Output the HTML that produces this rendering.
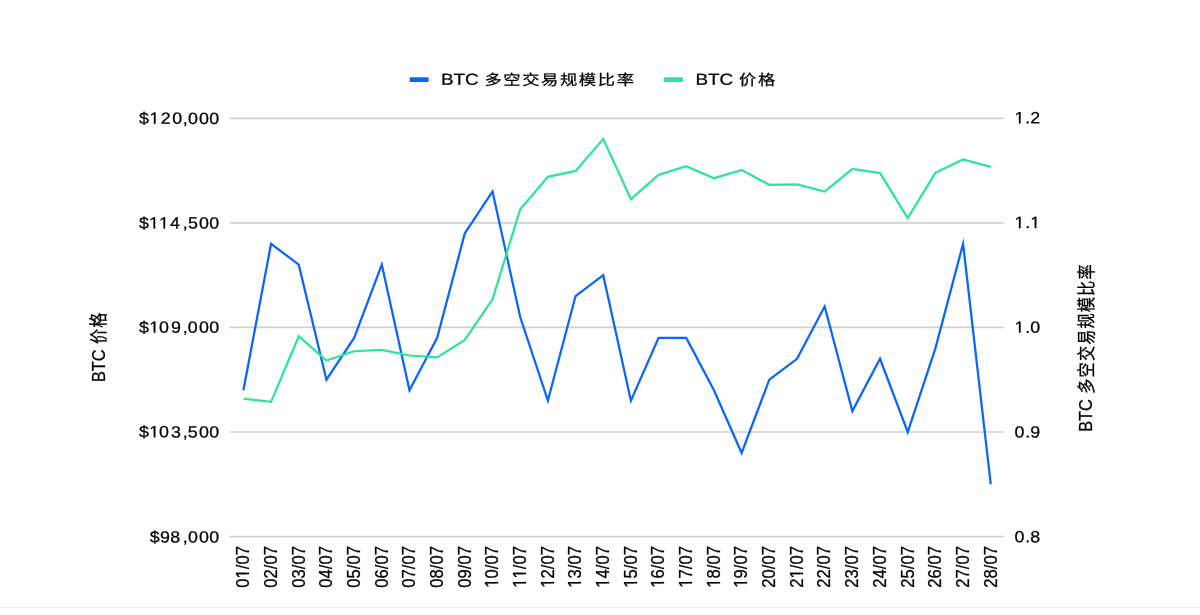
<!DOCTYPE html>
<html lang="zh"><head><meta charset="utf-8"><title>BTC 多空交易规模比率 / BTC 价格</title>
<style>html,body{margin:0;padding:0;background:#fff;}body{width:1200px;height:615px;overflow:hidden;}svg{display:block;will-change:transform;}text{font-family:"Liberation Sans",sans-serif;fill:#000000;stroke:#000000;stroke-width:0.25px;}</style></head><body>
<svg width="1200" height="615" viewBox="0 0 1200 615">
<rect width="1200" height="615" fill="#ffffff"/>
<rect x="0" y="607" width="1200" height="1" fill="#ececec"/>
<line x1="229.6" x2="1003.7" y1="118.30" y2="118.30" stroke="#d0d0d0" stroke-width="1.66"/>
<line x1="229.6" x2="1003.7" y1="222.87" y2="222.87" stroke="#d0d0d0" stroke-width="1.66"/>
<line x1="229.6" x2="1003.7" y1="327.44" y2="327.44" stroke="#d0d0d0" stroke-width="1.66"/>
<line x1="229.6" x2="1003.7" y1="432.01" y2="432.01" stroke="#d0d0d0" stroke-width="1.66"/>
<line x1="229.6" x2="1003.7" y1="536.58" y2="536.58" stroke="#d0d0d0" stroke-width="1.66"/>
<polyline points="243.40,390.18 271.08,243.78 298.76,264.70 326.44,379.72 354.12,337.90 381.80,264.70 409.48,390.18 437.16,337.90 464.84,233.33 492.52,191.50 520.20,316.98 547.88,400.64 575.56,296.07 603.24,275.15 630.92,400.64 658.60,337.90 686.28,337.90 713.96,390.18 741.64,452.92 769.32,379.72 797.00,358.81 824.68,306.53 852.36,411.10 880.04,358.81 907.72,432.01 935.40,348.35 963.08,243.78 990.76,484.29" fill="none" stroke="#0A66F8" stroke-width="2.25" stroke-linejoin="miter" stroke-miterlimit="10"/>
<polyline points="243.40,398.75 271.08,401.85 298.76,336.20 326.44,360.60 354.12,351.25 381.80,350.00 409.48,355.50 437.16,357.40 464.84,340.00 492.52,299.30 520.20,209.20 547.88,176.85 575.56,170.90 603.24,139.00 630.92,199.20 658.60,174.85 686.28,166.20 713.96,178.20 741.64,170.00 769.32,184.80 797.00,184.40 824.68,191.60 852.36,168.90 880.04,173.10 907.72,218.00 935.40,172.85 963.08,159.45 990.76,166.90" fill="none" stroke="#2EE39B" stroke-width="2.25" stroke-linejoin="miter" stroke-miterlimit="10"/>
<g transform="translate(0,123.75) rotate(0.04) scale(1.1,1)"><text font-size="16.2" x="126.29 135.84 146.11 156.56 166.19 170.91 180.96 190.27">$120,000</text><rect x="136.07" y="-1.98" width="3.71" height="3.24" fill="#fff"/><rect x="141.47" y="-1.98" width="3.27" height="3.24" fill="#fff"/></g>
<g transform="translate(0,228.32) rotate(0.04) scale(1.1,1)"><text font-size="16.2" x="126.29 135.56 144.56 154.65 166.19 170.91 180.96 190.27">$114,500</text><rect x="135.80" y="-1.98" width="3.71" height="3.24" fill="#fff"/><rect x="141.19" y="-1.98" width="3.27" height="3.24" fill="#fff"/><rect x="144.80" y="-1.98" width="3.71" height="3.24" fill="#fff"/><rect x="150.19" y="-1.98" width="3.27" height="3.24" fill="#fff"/></g>
<g transform="translate(0,332.69) rotate(0.04) scale(1.1,1)"><text font-size="16.2" x="126.29 135.74 144.56 155.38 166.19 170.60 180.96 190.27">$109,000</text><rect x="135.98" y="-1.98" width="3.71" height="3.24" fill="#fff"/><rect x="141.38" y="-1.98" width="3.27" height="3.24" fill="#fff"/></g>
<g transform="translate(0,437.26) rotate(0.04) scale(1.1,1)"><text font-size="16.2" x="126.29 135.74 144.56 155.38 166.19 170.60 180.96 190.27">$103,500</text><rect x="135.98" y="-1.98" width="3.71" height="3.24" fill="#fff"/><rect x="141.38" y="-1.98" width="3.27" height="3.24" fill="#fff"/></g>
<g transform="translate(0,542.43) rotate(0.04) scale(1.1,1)"><text font-size="16.2" x="136.20 145.47 154.83 166.19 170.96 180.96 190.32">$98,000</text></g>
<g transform="translate(1014.0,123.30) rotate(0.04) scale(1.10,1)"><text font-size="16.2" x="0.45 10.27 14.76">1.2</text><rect x="0.69" y="-1.98" width="3.71" height="3.24" fill="#fff"/><rect x="6.08" y="-1.98" width="3.27" height="3.24" fill="#fff"/></g>
<g transform="translate(1014.0,228.07) rotate(0.04) scale(1.10,1)"><text font-size="16.2" x="0.45 10.27 14.76">1.1</text><rect x="0.69" y="-1.98" width="3.71" height="3.24" fill="#fff"/><rect x="6.08" y="-1.98" width="3.27" height="3.24" fill="#fff"/><rect x="15.00" y="-1.98" width="3.71" height="3.24" fill="#fff"/><rect x="20.39" y="-1.98" width="3.27" height="3.24" fill="#fff"/></g>
<g transform="translate(1014.0,332.64) rotate(0.04) scale(1.10,1)"><text font-size="16.2" x="0.45 10.27 14.76">1.0</text><rect x="0.69" y="-1.98" width="3.71" height="3.24" fill="#fff"/><rect x="6.08" y="-1.98" width="3.27" height="3.24" fill="#fff"/></g>
<g transform="translate(1014.0,437.61) rotate(0.04) scale(1.10,1)"><text font-size="16.2" x="0.45 10.27 14.76">0.9</text></g>
<g transform="translate(1014.0,542.28) rotate(0.04) scale(1.10,1)"><text font-size="16.2" x="0.45 10.27 14.76">0.8</text></g>
<g transform="translate(249.20,546.1) rotate(-90) scale(1,1.15)"><text font-size="16.6" x="-41.53 -32.30 -23.07 -18.46 -9.23">01/07</text><rect x="-32.06" y="-2.03" width="3.80" height="3.32" fill="#fff"/><rect x="-26.53" y="-2.03" width="3.35" height="3.32" fill="#fff"/></g>
<g transform="translate(276.88,546.1) rotate(-90) scale(1,1.15)"><text font-size="16.6" x="-41.53 -32.30 -23.07 -18.46 -9.23">02/07</text></g>
<g transform="translate(304.56,546.1) rotate(-90) scale(1,1.15)"><text font-size="16.6" x="-41.53 -32.30 -23.07 -18.46 -9.23">03/07</text></g>
<g transform="translate(332.24,546.1) rotate(-90) scale(1,1.15)"><text font-size="16.6" x="-41.53 -32.30 -23.07 -18.46 -9.23">04/07</text></g>
<g transform="translate(359.92,546.1) rotate(-90) scale(1,1.15)"><text font-size="16.6" x="-41.53 -32.30 -23.07 -18.46 -9.23">05/07</text></g>
<g transform="translate(387.60,546.1) rotate(-90) scale(1,1.15)"><text font-size="16.6" x="-41.53 -32.30 -23.07 -18.46 -9.23">06/07</text></g>
<g transform="translate(415.28,546.1) rotate(-90) scale(1,1.15)"><text font-size="16.6" x="-41.53 -32.30 -23.07 -18.46 -9.23">07/07</text></g>
<g transform="translate(442.96,546.1) rotate(-90) scale(1,1.15)"><text font-size="16.6" x="-41.53 -32.30 -23.07 -18.46 -9.23">08/07</text></g>
<g transform="translate(470.64,546.1) rotate(-90) scale(1,1.15)"><text font-size="16.6" x="-41.53 -32.30 -23.07 -18.46 -9.23">09/07</text></g>
<g transform="translate(498.32,546.1) rotate(-90) scale(1,1.15)"><text font-size="16.6" x="-41.53 -32.30 -23.07 -18.46 -9.23">10/07</text><rect x="-41.29" y="-2.03" width="3.80" height="3.32" fill="#fff"/><rect x="-35.76" y="-2.03" width="3.35" height="3.32" fill="#fff"/></g>
<g transform="translate(526.00,546.1) rotate(-90) scale(1,1.15)"><text font-size="16.6" x="-41.53 -32.30 -23.07 -18.46 -9.23">11/07</text><rect x="-41.29" y="-2.03" width="3.80" height="3.32" fill="#fff"/><rect x="-35.76" y="-2.03" width="3.35" height="3.32" fill="#fff"/><rect x="-32.06" y="-2.03" width="3.80" height="3.32" fill="#fff"/><rect x="-26.53" y="-2.03" width="3.35" height="3.32" fill="#fff"/></g>
<g transform="translate(553.68,546.1) rotate(-90) scale(1,1.15)"><text font-size="16.6" x="-41.53 -32.30 -23.07 -18.46 -9.23">12/07</text><rect x="-41.29" y="-2.03" width="3.80" height="3.32" fill="#fff"/><rect x="-35.76" y="-2.03" width="3.35" height="3.32" fill="#fff"/></g>
<g transform="translate(581.36,546.1) rotate(-90) scale(1,1.15)"><text font-size="16.6" x="-41.53 -32.30 -23.07 -18.46 -9.23">13/07</text><rect x="-41.29" y="-2.03" width="3.80" height="3.32" fill="#fff"/><rect x="-35.76" y="-2.03" width="3.35" height="3.32" fill="#fff"/></g>
<g transform="translate(609.04,546.1) rotate(-90) scale(1,1.15)"><text font-size="16.6" x="-41.53 -32.30 -23.07 -18.46 -9.23">14/07</text><rect x="-41.29" y="-2.03" width="3.80" height="3.32" fill="#fff"/><rect x="-35.76" y="-2.03" width="3.35" height="3.32" fill="#fff"/></g>
<g transform="translate(636.72,546.1) rotate(-90) scale(1,1.15)"><text font-size="16.6" x="-41.53 -32.30 -23.07 -18.46 -9.23">15/07</text><rect x="-41.29" y="-2.03" width="3.80" height="3.32" fill="#fff"/><rect x="-35.76" y="-2.03" width="3.35" height="3.32" fill="#fff"/></g>
<g transform="translate(664.40,546.1) rotate(-90) scale(1,1.15)"><text font-size="16.6" x="-41.53 -32.30 -23.07 -18.46 -9.23">16/07</text><rect x="-41.29" y="-2.03" width="3.80" height="3.32" fill="#fff"/><rect x="-35.76" y="-2.03" width="3.35" height="3.32" fill="#fff"/></g>
<g transform="translate(692.08,546.1) rotate(-90) scale(1,1.15)"><text font-size="16.6" x="-41.53 -32.30 -23.07 -18.46 -9.23">17/07</text><rect x="-41.29" y="-2.03" width="3.80" height="3.32" fill="#fff"/><rect x="-35.76" y="-2.03" width="3.35" height="3.32" fill="#fff"/></g>
<g transform="translate(719.76,546.1) rotate(-90) scale(1,1.15)"><text font-size="16.6" x="-41.53 -32.30 -23.07 -18.46 -9.23">18/07</text><rect x="-41.29" y="-2.03" width="3.80" height="3.32" fill="#fff"/><rect x="-35.76" y="-2.03" width="3.35" height="3.32" fill="#fff"/></g>
<g transform="translate(747.44,546.1) rotate(-90) scale(1,1.15)"><text font-size="16.6" x="-41.53 -32.30 -23.07 -18.46 -9.23">19/07</text><rect x="-41.29" y="-2.03" width="3.80" height="3.32" fill="#fff"/><rect x="-35.76" y="-2.03" width="3.35" height="3.32" fill="#fff"/></g>
<g transform="translate(775.12,546.1) rotate(-90) scale(1,1.15)"><text font-size="16.6" x="-41.53 -32.30 -23.07 -18.46 -9.23">20/07</text></g>
<g transform="translate(802.80,546.1) rotate(-90) scale(1,1.15)"><text font-size="16.6" x="-41.53 -32.30 -23.07 -18.46 -9.23">21/07</text><rect x="-32.06" y="-2.03" width="3.80" height="3.32" fill="#fff"/><rect x="-26.53" y="-2.03" width="3.35" height="3.32" fill="#fff"/></g>
<g transform="translate(830.48,546.1) rotate(-90) scale(1,1.15)"><text font-size="16.6" x="-41.53 -32.30 -23.07 -18.46 -9.23">22/07</text></g>
<g transform="translate(858.16,546.1) rotate(-90) scale(1,1.15)"><text font-size="16.6" x="-41.53 -32.30 -23.07 -18.46 -9.23">23/07</text></g>
<g transform="translate(885.84,546.1) rotate(-90) scale(1,1.15)"><text font-size="16.6" x="-41.53 -32.30 -23.07 -18.46 -9.23">24/07</text></g>
<g transform="translate(913.52,546.1) rotate(-90) scale(1,1.15)"><text font-size="16.6" x="-41.53 -32.30 -23.07 -18.46 -9.23">25/07</text></g>
<g transform="translate(941.20,546.1) rotate(-90) scale(1,1.15)"><text font-size="16.6" x="-41.53 -32.30 -23.07 -18.46 -9.23">26/07</text></g>
<g transform="translate(968.88,546.1) rotate(-90) scale(1,1.15)"><text font-size="16.6" x="-41.53 -32.30 -23.07 -18.46 -9.23">27/07</text></g>
<g transform="translate(996.56,546.1) rotate(-90) scale(1,1.15)"><text font-size="16.6" x="-41.53 -32.30 -23.07 -18.46 -9.23">28/07</text></g>
<rect x="409.7" y="77.3" width="18.9" height="4.7" rx="0.5" fill="#0A66F8"/><g transform="translate(440.9,84.8) rotate(0.04) scale(1.18,1)"><text font-size="16.0">BTC</text><g transform="translate(36.25,0.6)"><text font-size="14.64" y="-0.52" x="0.68 16.68 32.68 48.68 64.68 80.68 96.68 112.68" style='font-family:"Liberation Sans","Noto Sans CJK SC",sans-serif'>多空交易规模比率</text></g></g>
<rect x="664.1" y="77.3" width="18.9" height="4.7" rx="0.5" fill="#2EE39B"/><g transform="translate(695.5,84.8) rotate(0.04) scale(1.18,1)"><text font-size="16.0">BTC</text><g transform="translate(36.25,0.6)"><text font-size="14.64" y="-0.52" x="0.68 16.68" style='font-family:"Liberation Sans","Noto Sans CJK SC",sans-serif'>价格</text></g></g>
<g transform="translate(104.6,347.2) rotate(-90) scale(1,1.1) translate(-34.87,0)"><text font-size="16.3">BTC</text><g transform="translate(37.53,0.6)"><text font-size="15.16" transform="translate(0,0.09) scale(1,1.09)" x="0.57 16.87" style='font-family:"Liberation Sans","Noto Sans CJK SC",sans-serif'>价格</text></g></g>
<g transform="translate(1092.2,348.0) rotate(-90) scale(1,1.1) translate(-83.77,0)"><text font-size="16.3">BTC</text><g transform="translate(37.53,0.6)"><text font-size="15.16" transform="translate(0,0.09) scale(1,1.09)" x="0.57 16.87 33.17 49.47 65.77 82.07 98.37 114.67" style='font-family:"Liberation Sans","Noto Sans CJK SC",sans-serif'>多空交易规模比率</text></g></g>
</svg></body></html>
